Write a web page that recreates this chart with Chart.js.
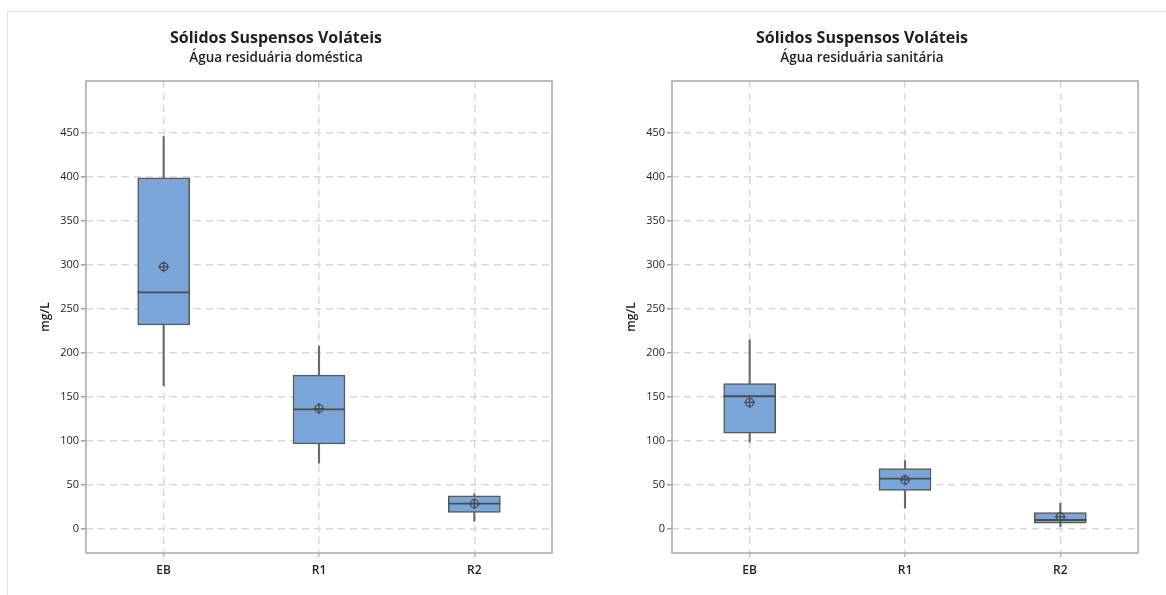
<!DOCTYPE html>
<html>
<head>
<meta charset="utf-8">
<script src="https://cdn.jsdelivr.net/npm/chart.js@4.4.1/dist/chart.umd.min.js"></script>
<style>
    html, body { margin: 0; padding: 0; background: #fff; overflow: hidden; }
    #page { position: relative; width: 1166px; height: 595px; overflow: hidden; }
    #frame { position: absolute; left: 7px; top: 11px; width: 1200px; height: 700px;
             border-top: 1px solid #e3e3e3; border-left: 1px solid #e3e3e3; }
    .panel { position: absolute; top: 0; width: 598px; height: 595px; }
</style>
</head>
<body>
<div id="page">
    <div id="frame"></div>
    <div class="panel" style="left:0"><canvas id="domChart" width="598" height="595"></canvas></div>
    <div class="panel" style="left:586px"><canvas id="sanChart" width="598" height="595"></canvas></div>
</div>
<script>
// ─── Data ─────────────────────────────────────────────────────────────────────

const categories = ['EB', 'R1', 'R2'];
const yTicks = [0, 50, 100, 150, 200, 250, 300, 350, 400, 450];

// Água residuária doméstica
const domLow    = [163, 75, 9];
const domQ1     = [232, 97, 19];
const domMedian = [269, 136, 29];
const domQ3     = [399, 175, 38];
const domHigh   = [446, 208, 40];
const domMean   = [298, 137, 29];

// Água residuária sanitária
const sanLow    = [99, 24, 3];
const sanQ1     = [109, 44, 7];
const sanMedian = [151, 57.5, 10.5];
const sanQ3     = [165.5, 69, 19];
const sanHigh   = [215, 78, 29.5];
const sanMean   = [144, 56, 14];

// ─── Shared config ────────────────────────────────────────────────────────────

const fontFamily = '"Open Sans", "Noto Sans", sans-serif';

const colors = {
    box: '#7BA6DA',
    edge: '#595959',
    whisker: '#6b6b6b',
    grid: '#dadada',
    frame: '#a9a9a9',
    text: '#1f1f1f',
};

const gridDash = [7, 5];

// solid rectangle round the plot area, like the Minitab frame
const frameBorder = {
    id: 'frameBorder',
    beforeDatasetsDraw(chart) {
        const { ctx, chartArea: a } = chart;
        ctx.save();
        ctx.strokeStyle = colors.frame;
        ctx.lineWidth = 1.5;
        ctx.strokeRect(a.left, a.top, a.right - a.left, a.bottom - a.top);
        ctx.restore();
    },
};

function boxPlot(canvasId, subtitle, low, q1, median, q3, high, mean) {
    return new Chart(document.getElementById(canvasId), {
        data: {
            labels: categories,
            datasets: [
                {
                    // mean: circle with cross
                    type: 'line',
                    data: mean,
                    showLine: false,
                    pointStyle: 'cross',
                    pointRadius: 5.5,
                    pointBorderWidth: 1.3,
                    pointBorderColor: '#4a4a4a',
                    order: 0,
                },
                {
                    type: 'line',
                    data: mean,
                    showLine: false,
                    pointStyle: 'circle',
                    pointRadius: 4,
                    pointBorderWidth: 1.3,
                    pointBackgroundColor: 'rgba(0,0,0,0)',
                    pointBorderColor: '#4a4a4a',
                    order: 0,
                },
                {
                    // median
                    type: 'line',
                    data: median,
                    showLine: false,
                    pointStyle: 'line',
                    pointRadius: 26,
                    pointBorderWidth: 1.8,
                    pointBorderColor: '#4d4d4d',
                    order: 1,
                },
                {
                    // box Q1..Q3
                    type: 'bar',
                    data: q1.map((v, i) => [v, q3[i]]),
                    backgroundColor: colors.box,
                    borderColor: colors.edge,
                    borderWidth: 1.5,
                    borderSkipped: false,
                    barThickness: 52,
                    grouped: false,
                    order: 2,
                },
                {
                    // whisker low..high
                    type: 'bar',
                    data: low.map((v, i) => [v, high[i]]),
                    backgroundColor: colors.whisker,
                    borderWidth: 0,
                    barThickness: 1.5,
                    grouped: false,
                    order: 3,
                },
            ],
        },
        options: {
            responsive: false,
            animation: false,
            events: [],
            layout: { padding: { left: 0, right: 46, top: 0, bottom: 0 } },
            plugins: {
                legend: { display: false },
                tooltip: { enabled: false },
                title: {
                    display: true,
                    text: 'Sólidos Suspensos Voláteis',
                    color: colors.text,
                    font: { family: fontFamily, size: 16, weight: '700', lineHeight: 1.2 },
                    padding: { top: 28.4, bottom: 1.5 },
                },
                subtitle: {
                    display: true,
                    text: subtitle,
                    color: colors.text,
                    font: { family: fontFamily, size: 13.5, weight: '600', lineHeight: 1.2 },
                    padding: { top: 0.8, bottom: 14.9 },
                },
            },
            scales: {
                x: {
                    offset: true,
                    afterFit: s => { s.height = 42; },
                    border: { display: false, dash: gridDash },
                    grid: {
                        offset: false,
                        color: colors.grid,
                        lineWidth: 1.5,
                        tickLength: 4,
                        tickColor: '#bdbdbd',
                        tickBorderDash: [],
                    },
                    ticks: {
                        color: colors.text,
                        padding: 6,
                        font: { family: fontFamily, size: 12, weight: '600' },
                    },
                },
                y: {
                    min: -27,
                    max: 509,
                    afterFit: s => { s.width = 86; },
                    afterBuildTicks: s => { s.ticks = yTicks.map(v => ({ value: v })); },
                    border: { display: false, dash: gridDash },
                    grid: {
                        color: colors.grid,
                        lineWidth: 1.5,
                        tickLength: 5,
                        tickColor: '#a0a0a0',
                        tickBorderDash: [],
                    },
                    ticks: {
                        color: colors.text,
                        padding: 2,
                        font: { family: fontFamily, size: 11 },
                    },
                    title: {
                        display: true,
                        text: 'mg/L',
                        color: colors.text,
                        font: { family: fontFamily, size: 12, weight: '600' },
                        padding: { top: 38, bottom: 4 },
                    },
                },
            },
        },
        plugins: [frameBorder],
    });
}

boxPlot('domChart', 'Água residuária doméstica', domLow, domQ1, domMedian, domQ3, domHigh, domMean);
boxPlot('sanChart', 'Água residuária sanitária', sanLow, sanQ1, sanMedian, sanQ3, sanHigh, sanMean);
</script>
</body>
</html>
